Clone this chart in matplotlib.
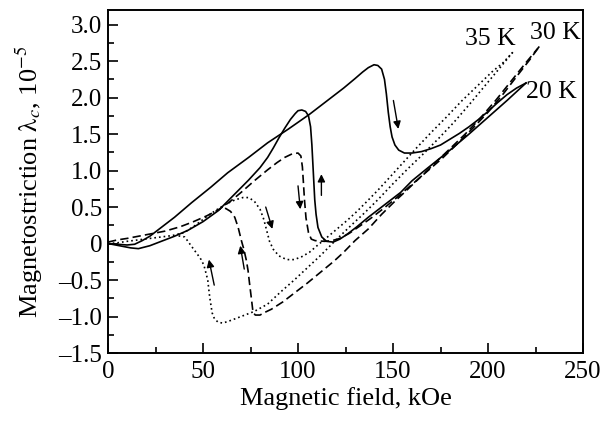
import matplotlib
matplotlib.use('Agg')
import matplotlib.pyplot as plt

plt.rcParams['font.family'] = ['Liberation Serif', 'DejaVu Serif']
plt.rcParams['mathtext.fontset'] = 'stix'

# 20 K, field up and field down
h20_up = [0, 5, 10, 14, 18, 22, 25, 30, 35, 44, 54, 63, 74, 84, 95, 106, 116, 124, 130, 134,
          137, 140, 142, 144, 145.5, 146.5, 147.5, 148.5, 149.5, 151, 153, 156, 160, 165, 170,
          175, 180, 185, 190, 195, 200, 205, 210, 215, 220]
l20_up = [0, -0.01, -0.02, -0.01, 0.04, 0.10, 0.16, 0.26, 0.36, 0.56, 0.77, 0.97, 1.18, 1.38,
          1.57, 1.77, 1.97, 2.13, 2.26, 2.35, 2.41, 2.45, 2.44, 2.39, 2.25, 2.05, 1.80, 1.60,
          1.46, 1.35, 1.28, 1.24, 1.24, 1.26, 1.30, 1.35, 1.43, 1.51, 1.60, 1.70, 1.81, 1.93,
          2.04, 2.13, 2.20]
h20_dn = [220, 210, 200, 190, 180, 168, 160, 154, 145, 137, 131, 126, 122, 118.5, 115, 112.5,
          110.5, 109.5, 108.8, 108.3, 107.9, 107.3, 106.6, 105.5, 104, 102, 100, 98.5, 96, 93,
          90, 87, 84, 80, 74, 66, 58, 50, 42, 35, 28, 22, 16, 12, 8, 4, 0]
l20_dn = [2.20, 1.96, 1.73, 1.50, 1.28, 1.03, 0.86, 0.70, 0.52, 0.36, 0.23, 0.13, 0.06, 0.02,
          0.03, 0.09, 0.22, 0.40, 0.60, 0.85, 1.05, 1.35, 1.60, 1.75, 1.81, 1.83, 1.82, 1.78,
          1.70, 1.58, 1.45, 1.31, 1.18, 1.04, 0.87, 0.66, 0.45, 0.30, 0.18, 0.10, 0.03, -0.03,
          -0.07, -0.06, -0.04, -0.02, 0]

# 30 K
h30_up = [0, 5, 10, 16, 22, 30, 38, 45, 52, 58, 64, 70, 77, 84, 89, 93, 97, 100, 101.5, 102.3,
          102.8, 103.4, 104.2, 105.5, 107, 109, 114, 118, 122, 127, 132, 138, 145, 152, 160,
          168, 176, 184, 192, 200, 208, 216, 222, 227]
l30_up = [0.02, 0.05, 0.07, 0.10, 0.13, 0.17, 0.23, 0.30, 0.38, 0.46, 0.57, 0.70, 0.86, 1.01,
          1.11, 1.18, 1.23, 1.24, 1.20, 1.05, 0.85, 0.60, 0.35, 0.15, 0.06, 0.04, 0.03, 0.04,
          0.07, 0.14, 0.23, 0.34, 0.48, 0.63, 0.81, 0.99, 1.17, 1.37, 1.58, 1.80, 2.05, 2.32,
          2.52, 2.70]
h30_dn = [227, 220, 212, 204, 196, 188, 180, 172, 164, 156, 151, 144, 137, 130, 124, 119, 112,
          105, 98, 92, 86, 82, 80, 77.5, 76.3, 75.4, 74.5, 73.7, 72.8, 71.5, 70.2, 68.5, 66.7,
          64.5, 62, 59.5, 58]
l30_dn = [2.70, 2.48, 2.22, 1.96, 1.72, 1.50, 1.30, 1.10, 0.90, 0.70, 0.58, 0.40, 0.20, 0.04,
          -0.12, -0.24, -0.39, -0.54, -0.68, -0.80, -0.90, -0.95, -0.98, -0.98, -0.94, -0.74,
          -0.55, -0.37, -0.23, -0.08, 0.04, 0.22, 0.36, 0.44, 0.48, 0.48, 0.46]

# 35 K
h35_up = [0, 5, 10, 16, 22, 28, 34, 40, 46, 52, 57, 62, 67, 71, 74, 77, 80, 82, 83.5, 85, 87,
          90, 94, 98, 102, 106, 110, 116, 121, 126, 131, 136, 142, 148, 155, 162, 170, 178, 186,
          194, 202, 208, 213]
l35_up = [0, 0.01, 0.03, 0.05, 0.07, 0.09, 0.11, 0.15, 0.25, 0.37, 0.46, 0.54, 0.60, 0.63, 0.63,
          0.58, 0.47, 0.33, 0.18, 0.03, -0.08, -0.17, -0.22, -0.22, -0.18, -0.12, -0.03, 0.10,
          0.21, 0.32, 0.44, 0.57, 0.73, 0.90, 1.10, 1.30, 1.52, 1.73, 1.95, 2.15, 2.35, 2.48,
          2.62]
h35_dn = [213, 206, 198, 190, 182, 174, 166, 158, 150, 142, 135, 128, 120, 112, 105, 98, 91, 84,
          77, 70, 65, 60.5, 58, 56, 54.8, 54.2, 53.5, 53, 52.5, 51.5, 50.5, 49, 47.4, 44, 40.4,
          36]
l35_dn = [2.62, 2.40, 2.15, 1.90, 1.66, 1.44, 1.23, 1.03, 0.82, 0.60, 0.42, 0.25, 0.05, -0.16,
          -0.33, -0.50, -0.66, -0.83, -0.93, -1.00, -1.05, -1.09, -1.08, -1.03, -0.95, -0.85,
          -0.73, -0.62, -0.50, -0.40, -0.30, -0.22, -0.16, -0.04, 0.09, 0.11]

# arrows: (tail x, tail y, head x, head y)
arrows = [(150.2, 1.96, 152.8, 1.57),
          (112.3, 0.66, 112.3, 0.95),
          (100.0, 0.79, 101.2, 0.47),
          (83.0, 0.50, 86.5, 0.20),
          (71.7, -0.35, 69.6, -0.03),
          (55.9, -0.57, 53.1, -0.22)]

temp_labels = ['35 K', '30 K', '20 K']
temp_pos = [(188, 2.80), (222, 2.88), (220, 2.07)]

fig = plt.figure(figsize=(6.11, 4.22), dpi=100)
ax = fig.add_axes([0.1768, 0.1635, 0.7774, 0.8128])

lw = 1.2
ax.plot(h20_up, l20_up, color='k', lw=lw)
ax.plot(h20_dn, l20_dn, color='k', lw=lw)
ax.plot(h30_up, l30_up, color='k', lw=lw, linestyle=(0, (5, 2.5)))
ax.plot(h30_dn, l30_dn, color='k', lw=lw, linestyle=(0, (5, 2.5)))
ax.plot(h35_up, l35_up, color='k', lw=lw, linestyle=(0, (1, 1.8)))
ax.plot(h35_dn, l35_dn, color='k', lw=lw, linestyle=(0, (1, 1.8)))

for x0, y0, x1, y1 in arrows:
    ax.annotate('', xy=(x1, y1), xytext=(x0, y0),
                arrowprops=dict(arrowstyle='-|>', color='k', lw=1.0,
                                mutation_scale=11, shrinkA=0, shrinkB=0))

for t, (x, y) in zip(temp_labels, temp_pos):
    ax.text(x, y, t, fontsize=18.5, ha='left', va='center')

ax.set_xlim(0, 250)
ax.set_ylim(-1.5, 3.2)
ax.set_xticks([0, 50, 100, 150, 200, 250])
ax.set_xticks([25, 75, 125, 175, 225], minor=True)
yt = [-1.5, -1.0, -0.5, 0, 0.5, 1.0, 1.5, 2.0, 2.5, 3.0]
ylab = ['\u20131.5', '\u20131.0', '\u20130.5', '0', '0.5', '1.0', '1.5', '2.0', '2.5', '3.0']
ax.set_yticks(yt)
ax.set_yticklabels(ylab)
ax.set_yticks([-1.25, -0.75, -0.25, 0.25, 0.75, 1.25, 1.75, 2.25, 2.75], minor=True)
ax.tick_params(which='both', direction='in', labelsize=18, width=1.2)
ax.tick_params(which='major', length=7)
ax.tick_params(which='minor', length=4)
ax.tick_params(axis='x', pad=6)
ax.tick_params(axis='y', pad=4)
for s in ax.spines.values():
    s.set_linewidth(1.4)

ax.set_xlabel('Magnetic field, kOe', fontsize=19, labelpad=3)
ax.set_ylabel(r'Magnetostriction $\mathrm{\lambda}_c$, 10$^{-5}$', fontsize=19, labelpad=10)

fig.savefig('out.png', dpi=100)
